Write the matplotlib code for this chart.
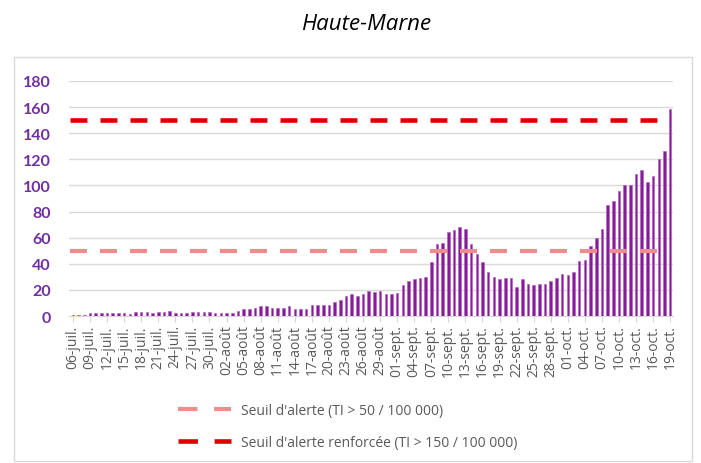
import matplotlib.pyplot as plt
from matplotlib.lines import Line2D
from matplotlib.patches import Rectangle
import numpy as np

# Taux d'incidence quotidien (glissant), du 06-juil. au 19-oct.
taux = [1, 1, 1, 2, 2, 2, 2, 2, 2, 2,
        1.5, 3, 3, 3, 2, 3, 3, 4, 2, 2,
        2, 3, 3, 3, 3, 2, 2, 2, 2, 4,
        5, 5, 6, 7.4, 7.4, 6.4, 6.4, 6.4, 7.4, 5,
        5, 5, 8.4, 8.4, 8.4, 8.4, 10.7, 12, 15, 17,
        15, 17, 19.4, 18.4, 19.4, 17, 17, 18, 23.5, 27,
        28, 29, 30, 41, 55, 56, 64, 66, 68.5, 67,
        55, 47.5, 41, 33.5, 30, 28.4, 29, 29, 22.5, 28,
        24.5, 23.8, 24.5, 24.5, 27, 29, 32.4, 31.4, 33.5, 42,
        43, 54, 60, 67, 85, 88, 95.5, 100, 100, 108.5,
        112, 103, 107.5, 120.5, 126, 158.6]

etiquettes = ["06-juil.", "09-juil.", "12-juil.", "15-juil.", "18-juil.", "21-juil.",
              "24-juil.", "27-juil.", "30-juil.", "02-août", "05-août", "08-août",
              "11-août", "14-août", "17-août", "20-août", "23-août", "26-août",
              "29-août", "01-sept.", "04-sept.", "07-sept.", "10-sept.", "13-sept.",
              "16-sept.", "19-sept.", "22-sept.", "25-sept.", "28-sept.", "01-oct.",
              "04-oct.", "07-oct.", "10-oct.", "13-oct.", "16-oct.", "19-oct."]

seuil_alerte = 50
seuil_renforce = 150

plt.rcParams['font.family'] = ['Lato', 'DejaVu Sans']
plt.rcParams['lines.scale_dashes'] = False

fig = plt.figure(figsize=(7.01, 4.64), dpi=100)
ax = fig.add_axes([0.0984, 0.3168, 0.8617, 0.5065])

# cadre du graphique
fig.add_artist(Rectangle((14 / 701, 2 / 464), 678 / 701, 404 / 464,
                         transform=fig.transFigure, fill=False,
                         edgecolor='#D9D9D9', linewidth=1))

x = np.arange(len(taux))
ax.bar(x, taux, width=0.45, color='#861A98', edgecolor='#B36AC3', linewidth=0.5, zorder=3)

dash = (12.2, 9.4)
ax.plot([-0.6, 104.3], [seuil_alerte] * 2, color='#F28B8B', linewidth=3.0,
        dashes=dash, dash_capstyle='butt', zorder=4)
ax.plot([-0.6, 104.3], [seuil_renforce] * 2, color='#E00000', linewidth=3.3,
        dashes=dash, dash_capstyle='butt', zorder=4)

ax.set_xlim(-0.7, 105.5)
ax.set_ylim(0, 180)
ax.set_yticks(range(0, 181, 20))
ax.yaxis.grid(True, color='#D9D9D9', linewidth=1, zorder=0)
for s in ['top', 'right', 'left']:
    ax.spines[s].set_visible(False)
ax.spines['bottom'].set_color('#D9D9D9')
ax.tick_params(axis='y', length=0, pad=13, labelsize=11.5, labelcolor='#7030A0')
for lab in ax.get_yticklabels():
    lab.set_fontweight('bold')

ax.set_xticks(x[::3])
ax.set_xticklabels(etiquettes, rotation=90, fontsize=10, color='#595959', family='Open Sans')
ax.tick_params(axis='x', length=4, color='#D9D9D9', pad=2)

fig.text(0.522, 0.947, "Haute-Marne", ha='center', va='center', fontsize=16,
         style='italic', family='Open Sans')

dash_leg = (14.0, 12.0)
poignees = [Line2D([], [], color='#F28B8B', linewidth=3.0, dashes=dash_leg, dash_capstyle='butt'),
            Line2D([], [], color='#E00000', linewidth=3.3, dashes=dash_leg, dash_capstyle='butt')]
fig.legend(poignees, ["Seuil d'alerte (TI > 50 / 100 000)",
                      "Seuil d'alerte renforcée (TI > 150 / 100 000)"],
           loc='upper left', bbox_to_anchor=(178 / 701, 1 - 404 / 464),
           frameon=False, prop={'family': 'Open Sans', 'size': 10}, labelcolor='#595959',
           handlelength=3.85, handletextpad=0.7, labelspacing=1.2, borderpad=0, borderaxespad=0)

fig.savefig("out.png", dpi=100)
